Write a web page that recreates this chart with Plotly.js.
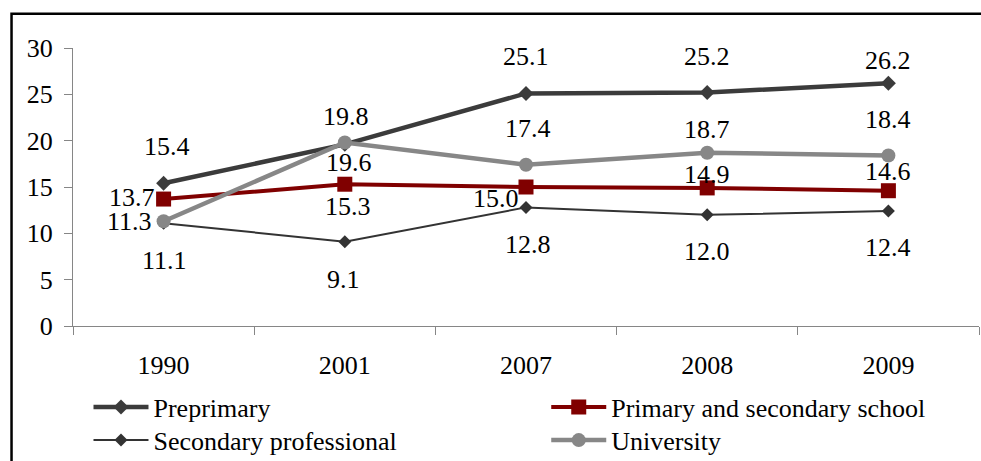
<!DOCTYPE html>
<html>
<head>
<meta charset="utf-8">
<script src="https://cdn.plot.ly/plotly-3.0.1.min.js"></script>
<style>html,body{margin:0;padding:0;background:#fff;overflow:hidden;}#chart{width:981px;height:461px;}</style>
</head>
<body>
<div id="chart"></div>
<script>
const years = ['1990', '2001', '2007', '2008', '2009'];
const seriesNames = ['Preprimary', 'Primary and secondary school', 'Secondary professional', 'University'];
const preprimary = [15.4, 19.6, 25.1, 25.2, 26.2];
const primarySecondary = [13.7, 15.3, 15.0, 14.9, 14.6];
const secondaryProfessional = [11.1, 9.1, 12.8, 12.0, 12.4];
const university = [11.3, 19.8, 17.4, 18.7, 18.4];
const yTicks = [0, 5, 10, 15, 20, 25, 30];

// label offsets (pixels) per series, per point
const labelShifts = [
  {dx: [3, 4, 0, 0, 0], dy: [37, -18, 37, 36, 23]},
  {dx: [-32, 3, -30, 0, 0], dy: [2, -22, -11, 13, 19]},
  {dx: [1, -1, 2, 0, 0], dy: [-37, -38, -37, -37, -36]},
  {dx: [-34, 1, 2, 0, 0], dy: [0, 26, 36, 23, 36]}
];

const allValues = [preprimary, primarySecondary, secondaryProfessional, university];
const styles = [
  {color: '#3b3b3b', width: 4.5, symbol: 'diamond', size: 11.5},
  {color: '#800000', width: 4, symbol: 'square', size: 15},
  {color: '#333333', width: 2, symbol: 'diamond', size: 10},
  {color: '#878787', width: 4.5, symbol: 'circle', size: 14}
];
const FONT = '"Liberation Serif", "Times New Roman", serif';
const legendIds = ['legend', 'legend2', 'legend3', 'legend4'];

const traces = allValues.map((vals, i) => ({
  type: 'scatter',
  mode: 'lines+markers',
  name: seriesNames[i],
  legend: legendIds[i],
  x: years,
  y: vals,
  line: {color: styles[i].color, width: styles[i].width},
  marker: {symbol: styles[i].symbol, size: styles[i].size, color: styles[i].color, line: {width: 0}},
  cliponaxis: false,
  hoverinfo: 'skip'
}));

const annotations = [];
allValues.forEach((vals, i) => {
  vals.forEach((v, j) => {
    annotations.push({
      x: j, y: v, xref: 'x', yref: 'y',
      text: v.toFixed(1), showarrow: false,
      xshift: labelShifts[i].dx[j], yshift: labelShifts[i].dy[j],
      font: {family: FONT, size: 26, color: '#000'},
      xanchor: 'center', yanchor: 'middle'
    });
  });
});

const L = 72.5, R = 979, T = 48.3, B = 326.3;
const px2x = p => (p - L) / (R - L);
const py2y = p => (B - p) / (B - T);

function legendAt(px, py) {
  return {
    orientation: 'v', x: px2x(px), y: py2y(py), xanchor: 'left', yanchor: 'top',
    itemwidth: 55, font: {family: FONT, size: 26, color: '#000'},
    bgcolor: 'rgba(0,0,0,0)', borderwidth: 0
  };
}

const layout = {
  width: 981, height: 461,
  margin: {l: L, r: 981 - R, t: T, b: 461 - B, pad: 0, autoexpand: false},
  paper_bgcolor: '#fff', plot_bgcolor: '#fff',
  font: {family: FONT, size: 26, color: '#000'},
  showlegend: true,
  legend: legendAt(88, 384),
  legend2: legendAt(546, 384),
  legend3: legendAt(88, 417),
  legend4: legendAt(546, 417),
  xaxis: {
    type: 'category', range: [-0.5, 4.5], showgrid: false, zeroline: false,
    showline: true, linecolor: '#868686', linewidth: 1,
    ticks: 'outside', tickson: 'boundaries', ticklen: 8, tickcolor: '#868686', tickwidth: 1,
    ticklabelstandoff: 16, fixedrange: true, automargin: false,
    tickfont: {family: FONT, size: 26, color: '#000'}
  },
  yaxis: {
    range: [0, 30], tickvals: yTicks, showgrid: false, zeroline: false,
    showline: true, linecolor: '#868686', linewidth: 1,
    ticks: 'outside', ticklen: 8, tickcolor: '#868686', tickwidth: 1,
    ticklabelstandoff: 6, fixedrange: true, automargin: false,
    tickfont: {family: FONT, size: 26, color: '#000'}
  },
  annotations: annotations,
  shapes: [{
    type: 'rect', xref: 'paper', yref: 'paper',
    x0: px2x(11), x1: px2x(1300), y0: py2y(700), y1: py2y(14),
    line: {color: '#000', width: 2.5}, fillcolor: 'rgba(0,0,0,0)', layer: 'below'
  }]
};

Plotly.newPlot('chart', traces, layout, {staticPlot: true, displayModeBar: false});
</script>
</body>
</html>
